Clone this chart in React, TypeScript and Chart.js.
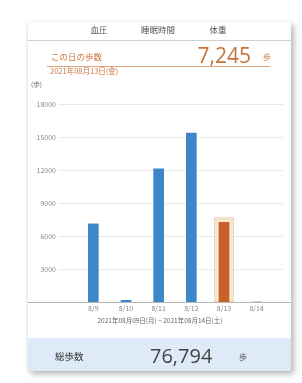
import React, { useEffect, useRef } from "react";
import { Chart, registerables } from "chart.js";

Chart.register(...registerables);

const categories = ["8/9", "8/10", "8/11", "8/12", "8/13", "8/14"];
const stepsValues = [7100, 150, 12100, 15350, 7245, 0];
const yTicks = [3000, 6000, 9000, 12000, 15000, 18000];
const selectedIndex = 4;
const tabLabels = ["血圧", "睡眠時間", "体重"];
const dayTitle = "この日の歩数";
const dayValue = "7,245";
const dayDate = "2021年08月13日(金)";
const rangeLabel = "2021年08月09日(月) ~ 2021年08月14日(土)";
const totalLabel = "総歩数";
const totalValue = "76,794";
const unit = "歩";

const BLUE = "#3d86c8";
const ORANGE = "#c8602c";
const TEXT_ORANGE = "#c9733c";
const FONT = "'Noto Sans CJK JP', 'Noto Sans', sans-serif";

const T = (props: {
  x: number;
  cy: number;
  size: number;
  color: string;
  text: string;
  align?: "left" | "center" | "right";
  weight?: number;
  family?: string;
}) => {
  const h = props.size * 1.4;
  const align = props.align || "left";
  const style: React.CSSProperties = {
    position: "absolute",
    top: props.cy - h / 2,
    height: h,
    lineHeight: h + "px",
    fontSize: props.size,
    color: props.color,
    whiteSpace: "nowrap",
    fontWeight: props.weight || 400,
    fontFamily: props.family || FONT,
  };
  if (align === "left") style.left = props.x;
  if (align === "right") {
    style.right = 302 - props.x;
  }
  if (align === "center") {
    style.left = props.x - 100;
    style.width = 200;
    style.textAlign = "center";
  }
  return <div style={style}>{props.text}</div>;
};

export default function App() {
  const ref = useRef<HTMLCanvasElement>(null);
  useEffect(() => {
    if (!ref.current) return;
    const decor = {
      id: "decor",
      beforeDatasetsDraw(chart: any) {
        const ctx = chart.ctx;
        const y = chart.scales.y;
        ctx.save();
        ctx.strokeStyle = "#e9e9e9";
        ctx.lineWidth = 1;
        yTicks.forEach((v) => {
          const py = Math.round(y.getPixelForValue(v)) + 0.5;
          ctx.beginPath();
          ctx.moveTo(58, py);
          ctx.lineTo(283, py);
          ctx.stroke();
        });
        const meta = chart.getDatasetMeta(0);
        const el = meta.data[selectedIndex];
        if (el) {
          const base = y.getPixelForValue(0);
          ctx.fillStyle = "#fae7d2";
          ctx.strokeStyle = "#f3d6b6";
          ctx.fillRect(el.x - 10, el.y - 5, 20, base - el.y + 5);
          ctx.strokeRect(el.x - 10 + 0.5, el.y - 5 + 0.5, 19, base - el.y + 4);
        }
        ctx.restore();
      },
      afterDatasetsDraw(chart: any) {
        const ctx = chart.ctx;
        const y = chart.scales.y;
        const py = Math.round(y.getPixelForValue(0)) + 0.5;
        ctx.save();
        ctx.strokeStyle = "#b5b5b5";
        ctx.lineWidth = 1;
        ctx.beginPath();
        ctx.moveTo(28, py);
        ctx.lineTo(291, py);
        ctx.stroke();
        ctx.restore();
      },
    };
    const chart = new Chart(ref.current, {
      type: "bar",
      data: {
        labels: categories,
        datasets: [
          {
            data: stepsValues,
            backgroundColor: stepsValues.map((_, i) => (i === selectedIndex ? ORANGE : BLUE)),
            barThickness: 10,
            borderWidth: 0,
          },
        ],
      },
      options: {
        animation: false,
        responsive: false,
        maintainAspectRatio: false,
        layout: { padding: { left: 0, right: 29, top: 104, bottom: 69 } },
        plugins: { legend: { display: false }, tooltip: { enabled: false } },
        scales: {
          y: {
            min: 0,
            max: 18000,
            afterFit: (s: any) => {
              s.width = 77;
            },
            afterBuildTicks: (s: any) => {
              s.ticks = [0, ...yTicks].map((v) => ({ value: v }));
            },
            grid: { display: false, drawTicks: false },
            border: { display: false },
            ticks: {
              padding: 21,
              color: "#8a8a8a",
              font: { size: 7, family: FONT },
              callback: (v: any) => (v === 0 ? "" : String(v)),
            },
          },
          x: {
            afterFit: (s: any) => {
              s.height = 12;
            },
            grid: { display: false, drawTicks: false },
            border: { display: false },
            ticks: {
              padding: 2,
              color: "#8a8a8a",
              maxRotation: 0,
              autoSkip: false,
              font: { size: 7, family: FONT },
            },
          },
        },
      },
      plugins: [decor],
    });
    return () => chart.destroy();
  }, []);

  return (
    <div
      style={{
        position: "fixed",
        left: 0,
        top: 0,
        width: 302,
        height: 383,
        background: "#ffffff",
        overflow: "hidden",
        fontFamily: FONT,
      }}
    >
      <div
        style={{
          position: "absolute",
          left: 28,
          top: 22,
          width: 263,
          height: 349,
          background: "#ffffff",
          boxShadow: "3px 3px 6px rgba(0,0,0,0.28), -1px 0 2px rgba(0,0,0,0.08)",
        }}
      />
      <div
        style={{
          position: "absolute",
          left: 28,
          top: 338,
          width: 263,
          height: 33,
          background: "#deeaf7",
        }}
      />
      <div style={{ position: "absolute", left: 28, top: 40, width: 263, height: 1, background: "#cfcfcf" }} />
      <div style={{ position: "absolute", left: 47, top: 66, width: 223, height: 1, background: "#dba47f" }} />
      <canvas
        ref={ref}
        width={302}
        height={383}
        style={{ position: "absolute", left: 0, top: 0, width: 302, height: 383 }}
      />
      <T x={99} cy={30} size={8.5} color="#555" text={tabLabels[0]} align="center" />
      <T x={158} cy={30} size={8.5} color="#555" text={tabLabels[1]} align="center" />
      <T x={218} cy={30} size={8.5} color="#555" text={tabLabels[2]} align="center" />
      <T x={51} cy={57} size={8.5} color={TEXT_ORANGE} text={dayTitle} />
      <T x={251} cy={56} size={21} color={TEXT_ORANGE} text={dayValue} align="right" family="'Open Sans', sans-serif" />
      <T x={267} cy={57} size={8} color={TEXT_ORANGE} text={unit} align="center" />
      <T x={50} cy={71.5} size={7.5} color={TEXT_ORANGE} text={dayDate} />
      <T x={31} cy={85} size={6.5} color="#666" text={"(" + unit + ")"} />
      <T x={160} cy={321} size={6.5} color="#666" text={rangeLabel} align="center" />
      <T x={55} cy={357} size={9.5} color="#333" text={totalLabel} />
      <T x={150} cy={356} size={20} color="#444" text={totalValue} family="'Open Sans', sans-serif" />
      <T x={243} cy={357} size={8} color="#444" text={unit} align="center" />
    </div>
  );
}
